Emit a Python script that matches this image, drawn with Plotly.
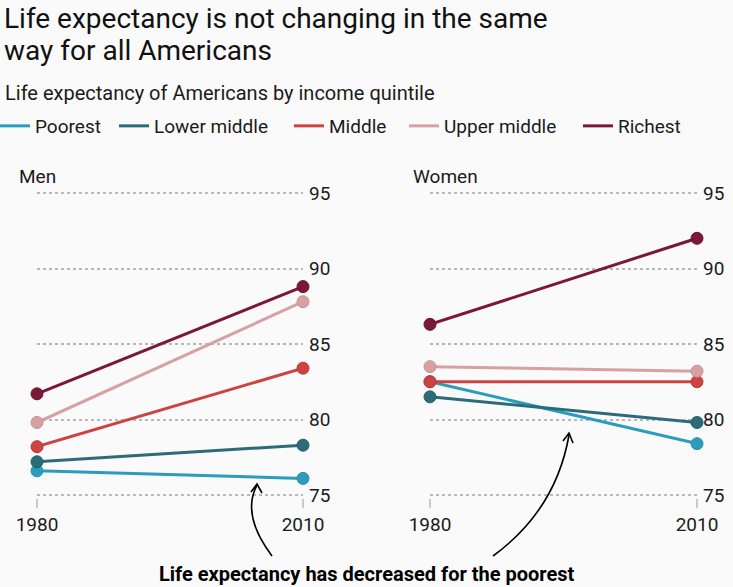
import plotly.graph_objects as go

W, H = 733, 587

years = [1980, 2010]
quintiles = ["Poorest", "Lower middle", "Middle", "Upper middle", "Richest"]
colors = ["#2b9cbc", "#2b6c78", "#cc4342", "#d8a0a2", "#7c1836"]
edge_colors = ["#2690ae", "#235e69", "#b83838", "#c98f92", "#6c1230"]

men = {
    "Poorest": [76.6, 76.1],
    "Lower middle": [77.2, 78.3],
    "Middle": [78.2, 83.4],
    "Upper middle": [79.8, 87.8],
    "Richest": [81.7, 88.8],
}
women = {
    "Poorest": [82.5, 78.4],
    "Lower middle": [81.5, 79.8],
    "Middle": [82.5, 82.5],
    "Upper middle": [83.5, 83.2],
    "Richest": [86.3, 92.0],
}
y_ticks = [75, 80, 85, 90, 95]

# legend positions (px)
legend_x = [0, 119, 294, 409, 583]

FONT = "Roboto"
TXT = "#1a1a1a"
BG = "#fafafa"


def px(x):
    return x / W


def py(y):
    return 1 - y / H


fig = go.Figure()

for panel, data in (("x", men), ("x2", women)):
    for i, q in enumerate(quintiles):
        fig.add_trace(go.Scatter(
            x=years, y=data[q], mode="lines+markers", name=q,
            xaxis=panel, yaxis="y" if panel == "x" else "y2",
            line=dict(color=colors[i], width=3),
            marker=dict(size=12, color=colors[i], line=dict(color=edge_colors[i], width=1)),
            cliponaxis=False, showlegend=False,
        ))

# legend entries (line only)
legends = {}
for i, q in enumerate(quintiles):
    lname = "legend" if i == 0 else f"legend{i + 1}"
    fig.add_trace(go.Scatter(
        x=[None], y=[None], mode="lines", name=q,
        line=dict(color=colors[i], width=3),
        showlegend=True, legend=lname,
    ))
    legends[lname] = dict(
        x=px(legend_x[i] - 5), y=py(126), xanchor="left", yanchor="middle",
        orientation="h", bgcolor="rgba(0,0,0,0)", borderwidth=0,
        font=dict(family=FONT, size=19, color=TXT), itemwidth=30,
    )

# y-range padded slightly so the 75 and 95 grid lines are drawn
Y0, Y1 = 74.8, 95.2
PX_PER_UNIT = (495 - 193) / 20.0

axis_common = dict(
    range=[1980, 2010], tickvals=years, ticktext=[str(y) for y in years],
    showgrid=False, zeroline=False, showline=False,
    ticks="outside", ticklen=9, tickwidth=2, tickcolor="#c8c8c8",
    tickfont=dict(family=FONT, size=19, color=TXT), fixedrange=True,
)
yaxis_common = dict(
    range=[Y0, Y1], tickvals=y_ticks, side="right",
    showgrid=True, gridcolor="#b8b8b8", griddash="dot", gridwidth=1.5,
    zeroline=False, showline=False, ticks="", ticklabelstandoff=5,
    tickfont=dict(family=FONT, size=19, color=TXT), fixedrange=True,
    domain=[py(495 + (75 - Y0) * PX_PER_UNIT), py(193 - (Y1 - 95) * PX_PER_UNIT)],
)

fig.update_layout(
    width=W, height=H,
    margin=dict(l=0, r=0, t=0, b=0, pad=0, autoexpand=False),
    paper_bgcolor=BG, plot_bgcolor="rgba(0,0,0,0)",
    xaxis=dict(domain=[px(37), px(303)], anchor="y", **axis_common),
    xaxis2=dict(domain=[px(430), px(697)], anchor="y2", **axis_common),
    yaxis=dict(anchor="x", **yaxis_common),
    yaxis2=dict(anchor="x2", **yaxis_common),
    showlegend=True,
    **legends,
)

annotations = [
    dict(text="Life expectancy is not changing in the same",
         x=px(2), y=py(18), xanchor="left", yanchor="middle",
         font=dict(family=FONT, size=28, color="#111")),
    dict(text="way for all Americans",
         x=px(2), y=py(51), xanchor="left", yanchor="middle",
         font=dict(family=FONT, size=28, color="#111")),
    dict(text="Life expectancy of Americans by income quintile",
         x=px(3), y=py(93), xanchor="left", yanchor="middle",
         font=dict(family=FONT, size=20, color=TXT)),
    dict(text="Men", x=px(17), y=py(176), xanchor="left", yanchor="middle",
         font=dict(family=FONT, size=19, color=TXT)),
    dict(text="Women", x=px(411), y=py(176), xanchor="left", yanchor="middle",
         font=dict(family=FONT, size=19, color=TXT)),
    dict(text="<b>Life expectancy has decreased for the poorest</b>",
         x=px(366), y=py(574), xanchor="center", yanchor="middle",
         font=dict(family=FONT, size=20, color="#000")),
]
for a in annotations:
    a.update(xref="paper", yref="paper", showarrow=False)
fig.update_layout(annotations=annotations)


def P(x, y):
    return f"{px(x):.5f},{py(y):.5f}"


shapes = [
    # left curved arrow
    dict(type="path", path=f"M{P(272,556)} Q{P(241,515)} {P(257,485)}"),
    dict(type="path", path=f"M{P(251,492)} L{P(257,484)} L{P(262,493)}"),
    # right curved arrow
    dict(type="path", path=f"M{P(493,556)} Q{P(556,510)} {P(569,435)}"),
    dict(type="path", path=f"M{P(563,441)} L{P(569,433)} L{P(573,443)}"),
]
for s in shapes:
    s.update(xref="paper", yref="paper", line=dict(color="#000", width=1.6))
fig.update_layout(shapes=shapes)

fig.write_html(
    "out.html",
    config={"displayModeBar": False},
    post_script="document.body.style.margin='0';document.body.style.overflow='hidden';",
)
